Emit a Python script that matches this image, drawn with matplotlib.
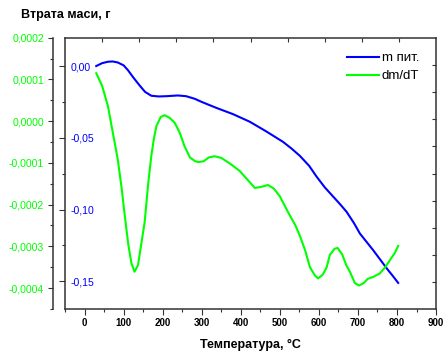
import numpy as np
import matplotlib
matplotlib.use('Agg')
import matplotlib.pyplot as plt
from matplotlib.ticker import MultipleLocator, FuncFormatter, FixedLocator

plt.rcParams['font.family'] = ['Liberation Sans', 'DejaVu Sans']

# m пит. (left inner axis, г)
t_mass = [30, 45, 60, 72, 85, 100, 111, 125, 141, 155, 171, 190, 210, 239, 260,
          282, 300, 338, 380, 423, 465, 508, 530, 551, 575, 594, 615, 637, 655,
          671, 690, 705, 722, 739, 756, 774, 790, 803]
mass = [0.000, 0.002, 0.003, 0.0032, 0.0025, 0.0005, -0.0028, -0.008, -0.0135,
        -0.018, -0.0207, -0.0212, -0.0210, -0.0205, -0.0210, -0.0228, -0.0250,
        -0.0292, -0.0335, -0.0388, -0.0455, -0.0528, -0.0575, -0.0625, -0.0695,
        -0.0770, -0.0845, -0.0911, -0.0965, -0.1016, -0.1095, -0.1167, -0.1225,
        -0.1283, -0.1345, -0.1411, -0.1465, -0.1511]

# dm/dT (outer green axis), units of 1e-4
t_dtg = [30, 45, 60, 72, 85, 95, 103, 112, 120, 128, 137, 146, 154, 163, 171,
         178, 184, 195, 205, 218, 231, 244, 256, 270, 283, 292, 305, 318, 333,
         350, 370, 397, 415, 436, 450, 470, 485, 500, 521, 540, 551, 565, 577,
         590, 598, 610, 620, 628, 640, 648, 660, 670, 680, 692, 703, 715, 725,
         740, 756, 770, 782, 795, 803]
dtg = [1.15, 0.85, 0.36, -0.25, -0.91, -1.6, -2.26, -2.95, -3.4, -3.61, -3.45,
       -2.9, -2.42, -1.5, -0.83, -0.4, -0.12, 0.10, 0.143, 0.08, -0.04, -0.28,
       -0.6, -0.87, -0.96, -0.98, -0.96, -0.87, -0.84, -0.88, -1.0, -1.19,
       -1.38, -1.6, -1.58, -1.53, -1.62, -1.8, -2.18, -2.5, -2.74, -3.1, -3.5,
       -3.7, -3.77, -3.68, -3.5, -3.21, -3.06, -3.04, -3.2, -3.45, -3.62,
       -3.88, -3.94, -3.88, -3.78, -3.73, -3.65, -3.5, -3.33, -3.15, -2.99]
dtg = np.array(dtg) * 1e-4

blue = '#0000ff'
green = '#00ff00'
frame = '#333333'

fig = plt.figure(figsize=(4.46, 3.54), dpi=100)
pos = [0.1457, 0.1263, 0.832, 0.767]

# top / right decorative ticks
ax3 = fig.add_axes(pos, frameon=False)
ax3.set_xlim(0, 10)
ax3.set_ylim(0, 10)
ax3.xaxis.set_major_locator(FixedLocator(range(1, 10)))
ax3.yaxis.set_major_locator(FixedLocator(range(1, 10)))
ax3.tick_params(top=True, bottom=False, left=False, right=True,
                labeltop=False, labelbottom=False, labelleft=False,
                labelright=False, direction='in', length=3, width=0.8,
                color=frame)

ax = fig.add_axes(pos)
ax.patch.set_alpha(0)
ax.plot(t_mass, mass, color=blue, lw=1.5, label='m пит.')
ax.set_xlim(-50, 900)
ax.set_ylim(-0.1695, 0.0197)
for s in ax.spines.values():
    s.set_color(frame)
    s.set_linewidth(1.1)

ax.xaxis.set_major_locator(MultipleLocator(100))
ax.xaxis.set_minor_locator(MultipleLocator(50))
ax.tick_params(axis='x', which='major', direction='out', length=4, width=0.8,
               color=frame, labelsize=7, pad=2)
ax.tick_params(axis='x', which='minor', direction='out', length=2, width=0.8,
               color=frame)
for lab in ax.get_xticklabels():
    lab.set_fontweight('bold')
ax.set_xlabel('Температура, °C', fontsize=9, fontweight='bold', labelpad=8)

ax.yaxis.set_major_locator(MultipleLocator(0.05))
ax.yaxis.set_minor_locator(MultipleLocator(0.025))
ax.yaxis.set_major_formatter(FuncFormatter(lambda v, p: '0,00' if abs(v) < 1e-9 else ('%.2f' % v).replace('.', ',')))
ax.tick_params(axis='y', which='major', direction='out', length=4.3, width=0.8,
               color=frame, labelsize=7.6, labelcolor=blue, pad=-8.6)
ax.tick_params(axis='y', which='minor', direction='out', length=2.2, width=0.8,
               color=frame)
for lab in ax.get_yticklabels():
    lab.set_horizontalalignment('left')

ax2 = ax.twinx()
ax2.plot(t_dtg, dtg, color=green, lw=1.5, label='dm/dT')
ax2.set_ylim(-0.000451, 0.0002)
ax2.yaxis.set_ticks_position('left')
for k in ['top', 'bottom', 'right']:
    ax2.spines[k].set_visible(False)
ax2.spines['left'].set_visible(True)
ax2.spines['left'].set_position(('axes', -0.032))
ax2.spines['left'].set_color(frame)
ax2.spines['left'].set_linewidth(1.1)
ax2.yaxis.set_major_locator(MultipleLocator(0.0001))
ax2.yaxis.set_minor_locator(MultipleLocator(0.00005))
ax2.yaxis.set_major_formatter(FuncFormatter(lambda v, p: '0,0000' if abs(v) < 1e-12 else ('%.4f' % v).replace('.', ',')))
ax2.tick_params(axis='y', which='major', direction='out', length=3.6, width=0.8,
                color=frame, labelsize=7.6, labelcolor=green, pad=3)
ax2.tick_params(axis='y', which='minor', direction='out', length=2, width=0.8,
                color=frame)

h1, l1 = ax.get_legend_handles_labels()
h2, l2 = ax2.get_legend_handles_labels()
leg = ax2.legend(h1 + h2, l1 + l2, loc='upper left', bbox_to_anchor=(0.760, 0.948),
                 frameon=False, fontsize=9.5, handlelength=2.4, handletextpad=0.25,
                 borderpad=0, borderaxespad=0, labelspacing=0.45)

fig.text(0.046, 0.957, 'Втрата маси, г', fontsize=9, fontweight='bold',
         va='center', ha='left')

fig.savefig('out.png', dpi=100)
